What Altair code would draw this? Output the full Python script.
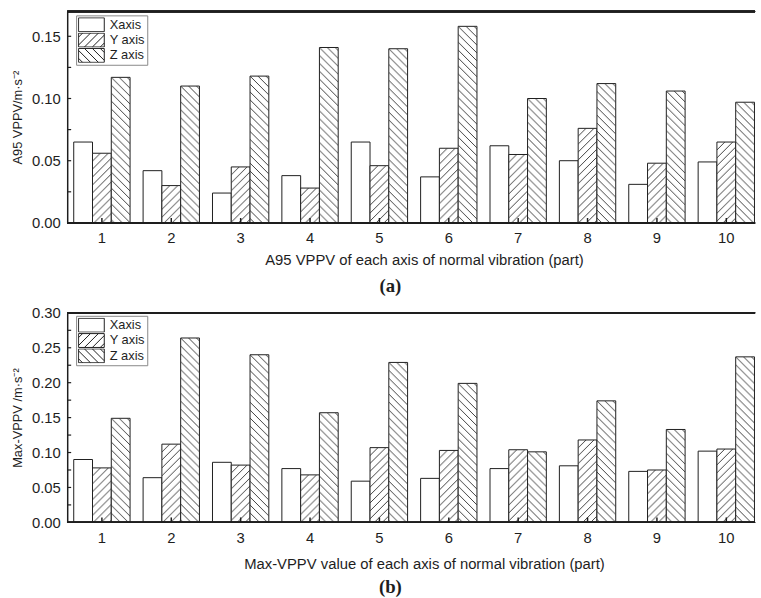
import altair as alt
import pandas as pd
from urllib.parse import quote

# ---------------- data ----------------
groups = ["1", "2", "3", "4", "5", "6", "7", "8", "9", "10"]
series = ["Xaxis", "Y axis", "Z axis"]

a95_x = [0.065, 0.042, 0.024, 0.038, 0.065, 0.037, 0.062, 0.050, 0.031, 0.049]
a95_y = [0.056, 0.030, 0.045, 0.028, 0.046, 0.060, 0.055, 0.076, 0.048, 0.065]
a95_z = [0.117, 0.110, 0.118, 0.141, 0.140, 0.158, 0.100, 0.112, 0.106, 0.097]

max_x = [0.090, 0.064, 0.086, 0.077, 0.059, 0.063, 0.077, 0.081, 0.073, 0.102]
max_y = [0.078, 0.112, 0.082, 0.068, 0.107, 0.103, 0.104, 0.118, 0.075, 0.105]
max_z = [0.149, 0.264, 0.240, 0.157, 0.229, 0.199, 0.101, 0.174, 0.133, 0.237]

a95_labels = [0.00, 0.05, 0.10, 0.15]
a95_ticks = [0.025, 0.05, 0.075, 0.10, 0.125, 0.15]
max_labels = [0.00, 0.05, 0.10, 0.15, 0.20, 0.25, 0.30]
max_ticks = [0.025, 0.05, 0.075, 0.10, 0.125, 0.15, 0.175, 0.20, 0.225, 0.25, 0.275, 0.30]

INK = "#1e1e1e"
FONT = "Liberation Sans"


# ---------------- hatch fills (pattern images) ----------------
def hatch_url(kind):
    if kind == "/":
        d = "M-2,2L2,-2M0,8L8,0M6,10L10,6"
    else:
        d = "M-2,6L2,10M0,0L8,8M6,-2L10,2"
    svg = ("<svg xmlns='http://www.w3.org/2000/svg'>"
           "<defs><pattern id='h' patternUnits='userSpaceOnUse' width='8' height='8'>"
           f"<path d='{d}' stroke='#2a2a2a' stroke-width='0.9' fill='none'/>"
           "</pattern></defs><rect width='100%' height='100%' fill='url(#h)'/></svg>")
    return "data:image/svg+xml;charset=utf-8," + quote(svg)


hatch_by_series = {"Xaxis": "", "Y axis": hatch_url("/"), "Z axis": hatch_url("\\")}


def sym_path(kind):
    h = 0.54
    p = f"M-1,-{h}H1V{h}H-1Z"
    if kind is None:
        return p
    step = 0.615
    segs = []
    for k in range(-3, 4):
        c = k * step
        y0, y1 = h, -h
        x0, x1 = c - y0, c - y1
        if x0 < -1:
            x0 = -1
            y0 = c - x0
        if x1 > 1:
            x1 = 1
            y1 = c - x1
        if x0 >= x1:
            continue
        if kind == "\\":
            x0, x1 = -x0, -x1
        segs.append(f"M{x0:.3f},{y0:.3f}L{x1:.3f},{y1:.3f}")
    return p + "".join(segs)


legend_shapes = [sym_path(None), sym_path("/"), sym_path("\\")]


def table(xs, ys, zs):
    rows = []
    for g, a, b, c in zip(groups, xs, ys, zs):
        for s, v in zip(series, (a, b, c)):
            rows.append({"group": g, "series": s, "value": v, "hatch": hatch_by_series[s]})
    return pd.DataFrame(rows)


W = 696


def panel(df, ylabel, xlabel, letter, ymax, label_vals, tick_vals, height, title_pad,
          legend_y, letter_offset):
    x_axis = alt.Axis(title=xlabel, domain=False, ticks=False, labelAngle=0, labelPadding=8,
                      labelFont=FONT, labelFontSize=15, labelColor=INK,
                      titleFont=FONT, titleFontSize=15, titleFontWeight="normal",
                      titleColor=INK, titlePadding=title_pad, titleX=361)
    x_scale = alt.Scale(range=[0, 702], paddingInner=0.188, paddingOuter=0.094)
    y_axis = alt.Axis(title=ylabel, values=label_vals, format=".2f", ticks=False, grid=False,
                      domainColor=INK, domainWidth=1.5, labelPadding=7,
                      labelFont=FONT, labelFontSize=15, labelColor=INK,
                      titleFont=FONT, titleFontSize=13, titleFontWeight="normal",
                      titleColor=INK, titlePadding=7)
    y_scale = alt.Scale(domain=[0, ymax], nice=False, zero=True)

    x = alt.X("group:N", sort=groups, scale=x_scale, axis=x_axis)
    xo = alt.XOffset("series:N", sort=series, scale=alt.Scale(paddingInner=0, paddingOuter=0))
    y = alt.Y("value:Q", scale=y_scale, axis=y_axis)

    base = alt.Chart(df)
    bars = base.mark_bar(fill="white", stroke=INK, strokeWidth=1).encode(x=x, xOffset=xo, y=y)
    hatch = base.transform_filter("datum.hatch != ''").mark_image(aspect=False).encode(
        x=x, xOffset=xo, y=y, y2=alt.datum(0), url=alt.Url("hatch:N"))

    xticks = alt.Chart(pd.DataFrame({"group": groups})).mark_rule(color=INK, strokeWidth=1.5).encode(
        x=x, y=alt.value(height), y2=alt.value(height - 5))
    yticks = alt.Chart(pd.DataFrame({"value": tick_vals})).mark_rule(color=INK, strokeWidth=1.2).encode(
        y=y, x=alt.value(0), x2=alt.value(4))
    baseline = alt.Chart(pd.DataFrame({"group": groups})).mark_rule(color=INK, strokeWidth=1.5).encode(
        y=alt.value(height))
    topline = alt.Chart(pd.DataFrame({"group": groups})).mark_rule(color=INK, strokeWidth=1.5).encode(
        y=alt.value(0))

    legend = base.transform_filter("false").mark_point(
        filled=False, color=INK, strokeWidth=1, opacity=1).encode(
        shape=alt.Shape("series:N", sort=series,
                        scale=alt.Scale(domain=series, range=legend_shapes),
                        legend=alt.Legend(title=None, orient="none", legendX=9, legendY=legend_y,
                                          symbolSize=676, symbolStrokeWidth=1,
                                          symbolStrokeColor=INK, symbolOpacity=1,
                                          clipHeight=15,
                                          labelFont=FONT, labelFontSize=13, labelColor=INK,
                                          labelOffset=5, rowPadding=0.5, padding=2,
                                          strokeColor="#888888", fillColor="white")))

    return alt.layer(bars, hatch, xticks, yticks, baseline, topline, legend).properties(
        width=W, height=height,
        title=alt.TitleParams(letter, orient="bottom", font="Liberation Serif", fontSize=19,
                              fontWeight="bold", color=INK, dx=-21, offset=letter_offset))


pa = panel(table(a95_x, a95_y, a95_z), "A95 VPPV/m·s⁻²",
           "A95 VPPV of each axis of normal vibration (part)", "(a)",
           0.17, a95_labels, a95_ticks, 214, 7, 4, 10)
pb = panel(table(max_x, max_y, max_z), "Max-VPPV /m·s⁻²",
           "Max-VPPV value of each axis of normal vibration (part)", "(b)",
           0.30, max_labels, max_ticks, 212, 12, 3, 6)

chart = alt.vconcat(pa, pb, spacing=10).resolve_scale(
    x="independent", y="independent", shape="independent", xOffset="independent"
).resolve_legend(shape="independent").properties(
    padding={"left": 11, "top": 7, "right": 0, "bottom": 0}
).configure_view(stroke=None)

chart.save("out.html", embed_options={"renderer": "svg", "actions": False})
